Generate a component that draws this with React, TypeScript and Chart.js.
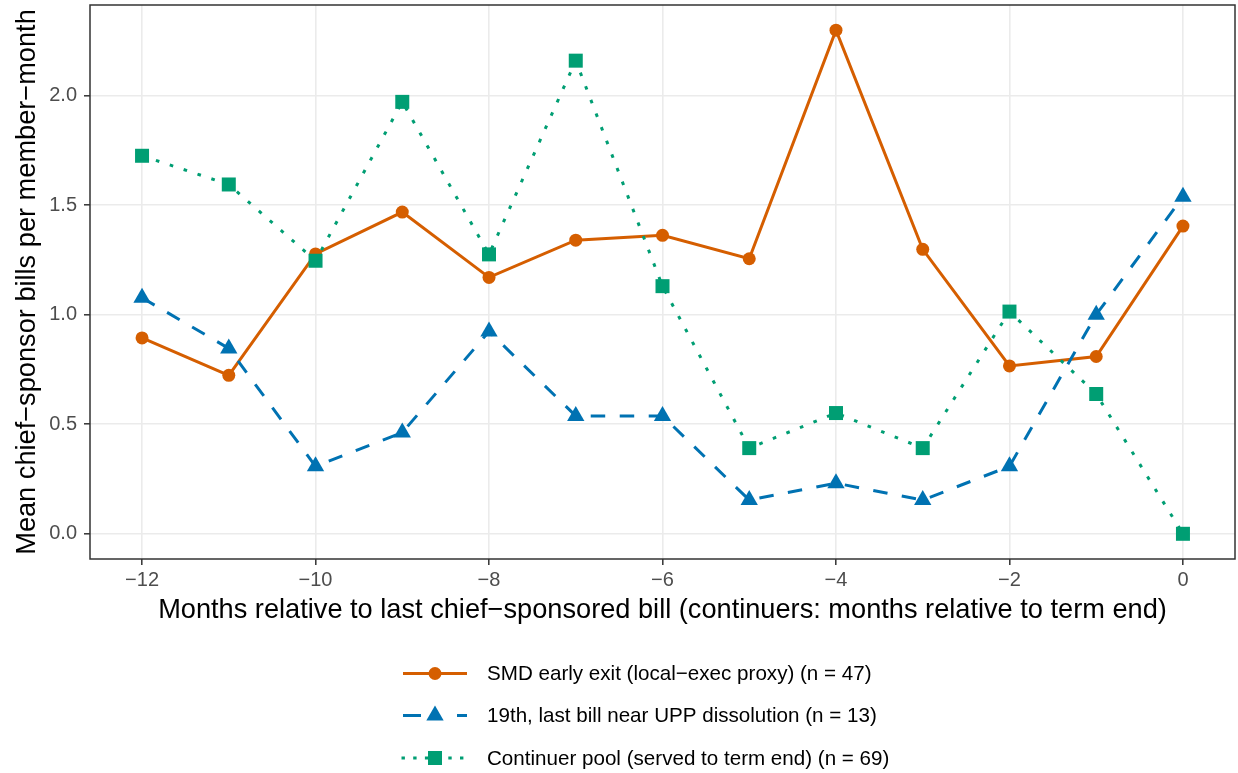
import React, { useEffect, useRef } from "react";
import { Chart, registerables } from "chart.js";

Chart.register(...registerables);

const months = [-12, -11, -10, -9, -8, -7, -6, -5, -4, -3, -2, -1, 0];
const smdExit = [0.894, 0.723, 1.277, 1.468, 1.170, 1.340, 1.362, 1.255, 2.298, 1.298, 0.766, 0.809, 1.404];
const uppLast = [1.077, 0.846, 0.308, 0.462, 0.923, 0.538, 0.538, 0.154, 0.231, 0.154, 0.308, 1.0, 1.538];
const continuers = [1.725, 1.594, 1.246, 1.971, 1.275, 2.159, 1.130, 0.391, 0.551, 0.391, 1.014, 0.638, 0.0];

const xTicks = [-12, -10, -8, -6, -4, -2, 0];
const yTicks = [0, 0.5, 1.0, 1.5, 2.0];

const seriesNames = [
  "SMD early exit (local\u2212exec proxy) (n = 47)",
  "19th, last bill near UPP dissolution (n = 13)",
  "Continuer pool (served to term end) (n = 69)",
];
const colors = ["#D55E00", "#0072B2", "#009E73"];

const FONT = "'Liberation Sans', Arial, Helvetica, sans-serif";

// canvas is slightly larger than the page and shifted up by SHIFT_Y so the
// plot panel lines up with the reference panel
const CW = 1245;
const CH = 778;
const SHIFT_Y = 5;

export default function App() {
  const ref = useRef<HTMLCanvasElement | null>(null);

  useEffect(() => {
    const prevMargin = document.body.style.margin;
    document.body.style.margin = "0";
    const canvas = ref.current!;
    const pts = (arr: number[]) => months.map((m, i) => ({ x: m, y: arr[i] }));

    const borderPlugin = {
      id: "panelBorder",
      afterDatasetsDraw(chart: any) {
        const { ctx, chartArea: a } = chart;
        ctx.save();
        ctx.strokeStyle = "#333333";
        ctx.lineWidth = 1.5;
        ctx.strokeRect(a.left, a.top, a.right - a.left, a.bottom - a.top);
        ctx.restore();
      },
    };

    const legendPlugin = {
      id: "customLegend",
      afterDraw(chart: any) {
        const { ctx } = chart;
        const rowsY = [673.5, 715.5, 758].map((v) => v + SHIFT_Y);
        const x0 = 403;
        const x1 = 467;
        const xm = 435;
        ctx.save();
        rowsY.forEach((y, i) => {
          ctx.strokeStyle = colors[i];
          ctx.fillStyle = colors[i];
          ctx.lineWidth = 3;
          ctx.lineCap = "butt";
          if (i === 0) {
            ctx.setLineDash([]);
            ctx.beginPath();
            ctx.moveTo(x0, y);
            ctx.lineTo(x1, y);
            ctx.stroke();
            ctx.beginPath();
            ctx.arc(xm, y, 6.5, 0, Math.PI * 2);
            ctx.fill();
          } else if (i === 1) {
            ctx.setLineDash([18, 36]);
            ctx.beginPath();
            ctx.moveTo(x0, y);
            ctx.lineTo(x1, y);
            ctx.stroke();
            ctx.setLineDash([]);
            const r = 10;
            ctx.beginPath();
            ctx.moveTo(xm, y - r);
            ctx.lineTo(xm + r * 0.866, y + r * 0.5);
            ctx.lineTo(xm - r * 0.866, y + r * 0.5);
            ctx.closePath();
            ctx.fill();
          } else {
            ctx.setLineDash([3.4, 8.3]);
            ctx.beginPath();
            ctx.moveTo(x0 - 1.5, y);
            ctx.lineTo(x1, y);
            ctx.stroke();
            ctx.setLineDash([]);
            ctx.fillRect(xm - 7, y - 7, 14, 14);
          }
          ctx.fillStyle = "#000000";
          ctx.font = `20.6px ${FONT}`;
          ctx.textBaseline = "middle";
          ctx.textAlign = "left";
          ctx.fillText(seriesNames[i], 487, y + 1);
        });
        ctx.restore();
      },
    };

    const chart = new Chart(canvas, {
      type: "line",
      data: {
        datasets: [
          {
            label: seriesNames[0],
            data: pts(smdExit),
            borderColor: colors[0],
            backgroundColor: colors[0],
            borderWidth: 3,
            pointStyle: "circle",
            pointRadius: 6.5,
            pointBorderWidth: 0,
            pointBackgroundColor: colors[0],
            order: 3,
          },
          {
            label: seriesNames[1],
            data: pts(uppLast),
            borderColor: colors[1],
            backgroundColor: colors[1],
            borderWidth: 3,
            borderDash: [14.5, 14.5],
            borderCapStyle: "butt",
            pointStyle: "triangle",
            pointRadius: 10,
            pointBorderWidth: 0,
            pointBackgroundColor: colors[1],
            order: 2,
          },
          {
            label: seriesNames[2],
            data: pts(continuers),
            borderColor: colors[2],
            backgroundColor: colors[2],
            borderWidth: 3,
            borderDash: [3.6, 11],
            borderCapStyle: "butt",
            pointStyle: "rect",
            pointRadius: 9.9,
            pointBorderWidth: 0,
            pointBackgroundColor: colors[2],
            order: 1,
          },
        ],
      },
      options: {
        animation: false,
        responsive: false,
        maintainAspectRatio: false,
        layout: { padding: { left: 11, right: 3, top: 5, bottom: 146.5 } },
        plugins: {
          legend: { display: false },
          tooltip: { enabled: false },
        },
        scales: {
          x: {
            type: "linear",
            min: -12.6,
            max: 0.6,
            afterBuildTicks: (s: any) => {
              s.ticks = xTicks.map((v) => ({ value: v }));
            },
            afterFit: (s: any) => {
              s.height = 67.5;
              s.paddingLeft = 0;
              s.paddingRight = 0;
            },
            grid: {
              color: "#EBEBEB",
              lineWidth: 1.6,
              tickColor: "#333333",
              tickLength: 6,
              tickWidth: 1.5,
            },
            border: { display: false },
            ticks: {
              color: "#4D4D4D",
              font: { family: FONT, size: 20 },
              padding: 3,
              maxRotation: 0,
              callback: (v: any) => (Number(v) < 0 ? "\u2212" + Math.abs(Number(v)) : String(v)),
            },
            title: {
              display: true,
              text: "Months relative to last chief\u2212sponsored bill (continuers: months relative to term end)",
              color: "#000000",
              font: { family: FONT, size: 27.2 },
              padding: 0,
            },
          },
          y: {
            type: "linear",
            min: -0.115,
            max: 2.413,
            afterBuildTicks: (s: any) => {
              s.ticks = yTicks.map((v) => ({ value: v }));
            },
            afterFit: (s: any) => {
              s.width = 79;
              s.paddingTop = 0;
              s.paddingBottom = 0;
            },
            grid: {
              color: "#EBEBEB",
              lineWidth: 1.6,
              tickColor: "#333333",
              tickLength: 6,
              tickWidth: 1.5,
            },
            border: { display: false },
            ticks: {
              color: "#4D4D4D",
              font: { family: FONT, size: 20 },
              padding: 7,
              callback: (v: any) => Number(v).toFixed(1),
            },
            title: {
              display: true,
              text: "Mean chief\u2212sponsor bills per member\u2212month",
              color: "#000000",
              font: { family: FONT, size: 27.2 },
              padding: 0,
            },
          },
        },
      } as any,
      plugins: [borderPlugin, legendPlugin],
    });

    return () => {
      chart.destroy();
      document.body.style.margin = prevMargin;
    };
  }, []);

  return (
    <div style={{ width: 1238, height: 773, overflow: "hidden", position: "relative", background: "#ffffff" }}>
      <canvas
        ref={ref}
        width={CW}
        height={CH}
        style={{ display: "block", position: "absolute", left: 0, top: -SHIFT_Y, width: CW, height: CH }}
      />
    </div>
  );
}
